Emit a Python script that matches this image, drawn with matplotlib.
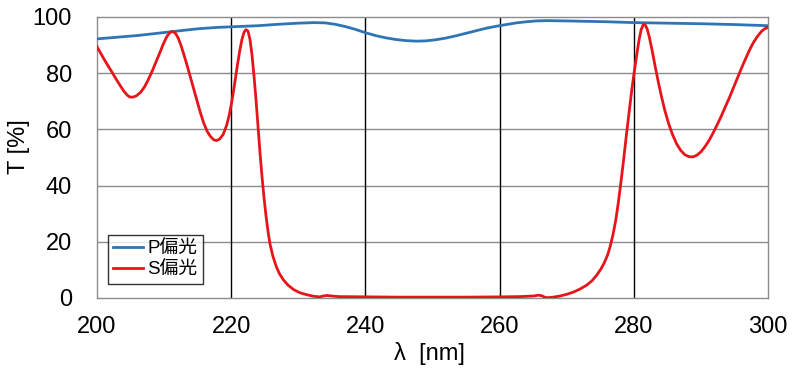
import matplotlib.pyplot as plt

# P偏光 (blue)
p_x = [200, 203, 206, 209, 212, 215, 218, 221, 224, 227, 230, 232.3, 234, 235.5, 237,
       238.5, 240, 241.5, 243, 244.5, 246, 247.6, 249, 250.5, 252, 253.5, 255, 256.5,
       258, 259.5, 261, 262.5, 264, 265.5, 267, 270, 276, 280, 290, 295, 300]
p_y = [92.2, 92.8, 93.4, 94.2, 95.0, 95.8, 96.3, 96.6, 96.9, 97.4, 97.8, 98, 97.9, 97.4, 96.6,
       95.6, 94.4, 93.4, 92.6, 92.0, 91.6, 91.4, 91.5, 91.9, 92.5, 93.3, 94.2, 95.1,
       96, 96.7, 97.3, 97.9, 98.3, 98.6, 98.7, 98.6, 98.3, 98.0, 97.6, 97.3, 96.9]

# S偏光 (red)
s_x = [200, 200.5, 201, 201.6, 202.2, 202.8, 203.4, 204, 204.5, 204.9, 205.4, 205.9,
       206.5, 207.1, 207.6, 208.2, 208.8, 209.4, 209.9, 210.4, 210.9, 211.3, 211.7,
       212.1, 212.5, 212.9, 213.4, 213.9, 214.4, 214.9, 215.4, 215.9, 216.4, 216.9,
       217.4, 217.8, 218.3, 218.8, 219.3, 219.7, 220.1, 220.5, 220.9, 221.3, 221.6,
       221.9, 222.2, 222.5, 222.8, 223.1, 223.4, 223.7, 224, 224.3, 224.6, 224.9,
       225.2, 225.5, 225.8, 226.2, 226.7, 227.2, 227.8, 228.5, 229.3, 230.2, 231.2,
       232.3, 233.2, 233.7, 234.3, 235, 236, 240, 245, 250, 255, 260, 263, 265, 265.8,
       266.3, 266.7, 267.2, 268, 269, 270, 271, 272, 273, 273.8, 274.5, 275.1, 275.6,
       276.1, 276.5, 276.9, 277.3, 277.7, 278.1, 278.5, 278.9, 279.3, 279.7, 280.1,
       280.5, 280.8, 281.1, 281.4, 281.7, 282, 282.3, 282.7, 283.1, 283.6, 284.1,
       284.6, 285.2, 285.8, 286.4, 287, 287.6, 288.2, 288.8, 289.4, 290, 290.6, 291.2,
       291.8, 292.4, 293, 293.6, 294.2, 294.8, 295.4, 296, 296.6, 297.2, 297.8, 298.4,
       299, 299.5, 300]
s_y = [89.4, 87.3, 85.2, 82.8, 80.5, 78.1, 75.8, 73.6, 72.2, 71.5, 71.5, 72.0,
       73.2, 75.2, 77.5, 80.6, 84, 87.5, 90.5, 93, 94.6, 94.8, 94.2,
       92.5, 90, 87, 83, 78.8, 74.5, 70.2, 66, 62.3, 59.4, 57.5,
       56.3, 56.0, 56.6, 58.2, 61.3, 65, 70, 76, 82.5, 88.3, 92,
       94.5, 95.5, 95.0, 92, 86.5, 79, 70.5, 61, 51.5, 43, 35.5,
       29, 23.5, 19, 15, 11.3, 8.6, 6.4, 4.5, 3.0, 1.9, 1.2,
       0.6, 0.4, 0.7, 0.9, 0.7, 0.5, 0.4, 0.3, 0.3, 0.3, 0.4, 0.5, 0.7, 1.0,
       0.8, 0.3, 0.1, 0.3, 0.7, 1.3, 2.1, 3.2, 4.6, 6.2, 8.2, 10.3, 12.5,
       15.3, 18.5, 22.5, 27.5, 34, 41.5, 49.5, 58, 66, 74, 81,
       87.5, 92, 95.5, 97.2, 97.2, 95.7, 93, 88.5, 83.5, 77.5, 72,
       67, 62, 58, 54.8, 52.5, 51, 50.3, 50.2, 50.8, 52, 53.8, 56,
       58.6, 61.5, 64.5, 67.8, 71, 74.5, 78, 81.5, 84.8, 88, 90.8, 93,
       94.8, 95.8, 96.3]

xticks = [200, 220, 240, 260, 280, 300]
yticks = [0, 20, 40, 60, 80, 100]

plt.rcParams['font.family'] = ['Liberation Sans', 'Noto Sans CJK JP', 'DejaVu Sans']

fig = plt.figure(figsize=(8.05, 3.86), dpi=100)
ax = fig.add_axes([0.1205, 0.228, 0.8335, 0.728])

for y in yticks[1:-1]:
    ax.axhline(y, color='#8c8c8c', lw=1, zorder=1)
for x in xticks[1:-1]:
    ax.axvline(x, color='black', lw=1, zorder=1)

ax.plot(p_x, p_y, color='#2e75b6', lw=2, label='P偏光', zorder=3)
ax.plot(s_x, s_y, color='#e8141c', lw=2, label='S偏光', zorder=3)

ax.set_xlim(200, 300)
ax.set_ylim(0, 100)
ax.set_xticks(xticks)
ax.set_yticks(yticks)
ax.tick_params(length=0, labelsize=17)
ax.tick_params(axis='y', pad=18)
ax.tick_params(axis='x', pad=13)
for s in ax.spines.values():
    s.set_color('#8c8c8c')
    s.set_linewidth(1)

ax.set_xlabel('λ  [nm]', fontsize=17)
ax.xaxis.set_label_coords(0.496, -0.155)
ax.set_ylabel('T [%]', fontsize=17)
ax.yaxis.set_label_coords(-0.100, 0.54)

leg = ax.legend(loc='lower left', bbox_to_anchor=(0.016, 0.05), fontsize=13.5,
                frameon=True, fancybox=False, handlelength=1.6, handletextpad=0.2,
                borderpad=0.3, labelspacing=0.2, borderaxespad=0)
leg.get_frame().set_edgecolor('black')
leg.get_frame().set_linewidth(1)

fig.savefig('out.png', dpi=100)
